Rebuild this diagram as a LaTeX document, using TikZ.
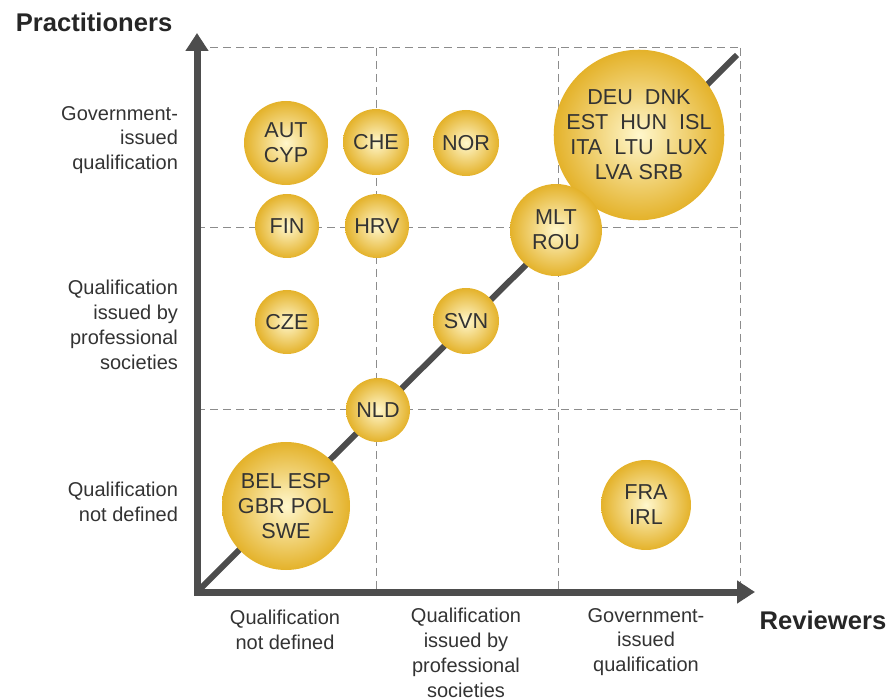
\documentclass[tikz,border=0pt]{standalone}
\usepackage{fontspec}
\setmainfont{Liberation Sans}
\usetikzlibrary{arrows.meta}

\definecolor{axisgray}{HTML}{4D4D4D}
\definecolor{gridgray}{HTML}{8C8C8C}
\definecolor{goldedge}{HTML}{E4B22A}
\definecolor{goldcore}{HTML}{FFF7CC}
\definecolor{labeltext}{HTML}{333333}

\begin{document}
\begin{tikzpicture}[x=0.5pt, y=-0.5pt,
        country/.style={circle, inner sep=0pt, minimum size=#1pt, shading=radial,
            inner color=goldcore, outer color=goldedge, text=labeltext, align=center,
            font=\fontsize{10.8}{12.5}\selectfont},
        level/.style={text=labeltext, font=\fontsize{10}{12.4}\selectfont},
        title/.style={text=black!85, font=\fontsize{12.8}{15}\selectfont\bfseries},
        axis/.style={draw=axisgray, line width=3.5pt, line join=miter,
            {Triangle[length=9pt, width=11pt]}-{Triangle[length=9pt, width=11pt]}},
        gridline/.style={draw=gridgray, line width=0.5pt, dash pattern=on 4pt off 2.5pt}
        ]
        \useasboundingbox (0,0) rectangle (890,700);

        % frame of the chart
        \coordinate (O) at (197,592);
        \coordinate (ytip) at (197,33);
        \coordinate (xtip) at (755,592);
        \coordinate (diagend) at (737,55);

        % dashed grid
        \foreach \x in {376,558,740}
            \draw[gridline] (\x,48) -- (\x,592);
        \foreach \y in {48,228,410}
            \draw[gridline] (197,\y) -- (740,\y);

        \draw[axisgray, line width=3pt] (O) -- (diagend);
        \draw[axis] (ytip) -- (O) -- (xtip);

        % countries
        \node[country=42] (autcyp) at (286,143) {AUT\\CYP};
        \node[country=33] (che) at (376,142) {CHE};
        \node[country=33] (nor) at (466,143) {NOR};
        \node[country=32] (fin) at (287,226) {FIN};
        \node[country=32] (hrv) at (377,226) {HRV};
        \node[country=82] (big) at (639,135) {DEU\ \ DNK\\EST\ \ HUN\ \ ISL\\ITA\ \ LTU\ \ LUX\\LVA SRB};
        \node[country=46] (mltrou) at (556,230) {MLT\\ROU};
        \node[country=32] (cze) at (287,322) {CZE};
        \node[country=33] (svn) at (466,321) {SVN};
        \node[country=32] (nld) at (378,410) {NLD};
        \node[country=64] (belesp) at (286,506) {BEL ESP\\GBR POL\\SWE};
        \node[country=45] (frairl) at (646,505) {FRA\\IRL};

        % axis titles
        \node[title] (practitioners) at (94,22) {Practitioners};
        \node[title] (reviewers) at (823,620) {Reviewers};

        % practitioner levels
        \node[level, align=right, anchor=east] (pgov) at (185,140) {Government-\\issued\\qualification};
        \node[level, align=right, anchor=east] (pprof) at (185,325) {Qualification\\issued by\\professional\\societies};
        \node[level, align=right, anchor=east] (pnone) at (185,502) {Qualification\\not defined};

        % reviewer levels
        \node[level, align=center] (rnone) at (285,630) {Qualification\\not defined};
        \node[level, align=center] (rprof) at (466,653) {Qualification\\issued by\\professional\\societies};
        \node[level, align=center] (rgov) at (646,642) {Government-\\issued\\qualification};
\end{tikzpicture}
\end{document}
